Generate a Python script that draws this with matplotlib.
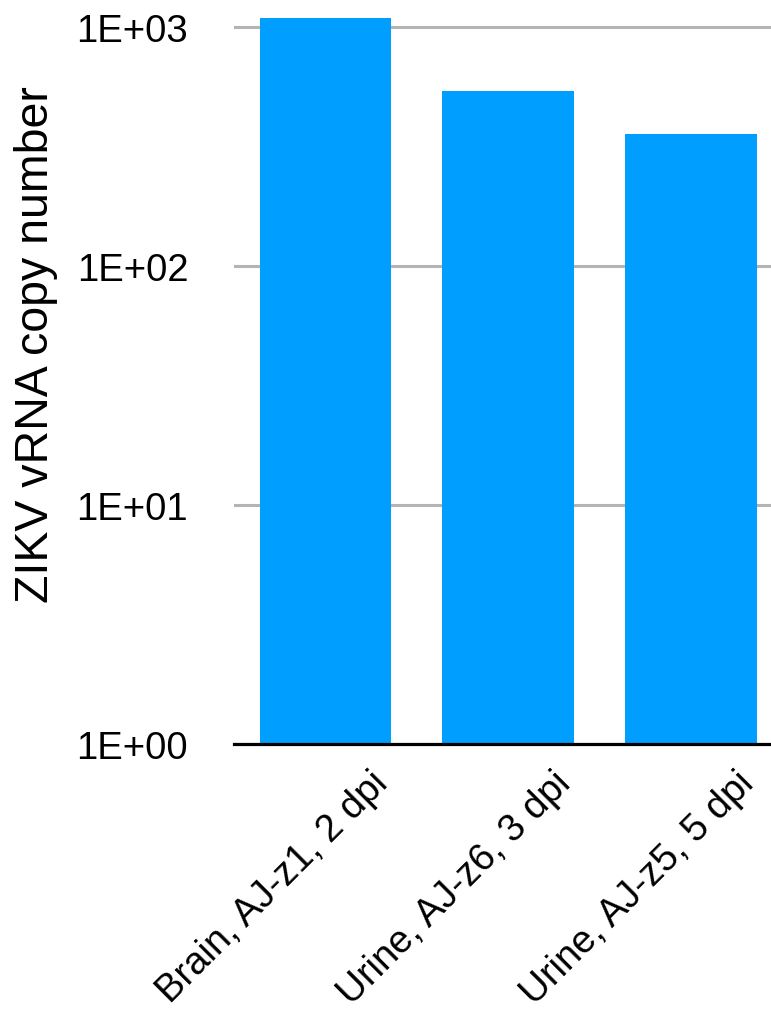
import matplotlib
matplotlib.use("Agg")
import matplotlib.pyplot as plt
import matplotlib.transforms as mtransforms
from matplotlib.ticker import FixedLocator, FixedFormatter

categories = ["Brain, AJ-z1, 2 dpi", "Urine, AJ-z6, 3 dpi", "Urine, AJ-z5, 5 dpi"]
values = [1090, 538, 357]
ytick_values = [1, 10, 100, 1000]
ytick_labels = ["1E+00", "1E+01", "1E+02", "1E+03"]
ylabel = "ZIKV vRNA copy number"

W, H = 771, 1012
plt.rcParams['font.family'] = ['Liberation Sans', 'DejaVu Sans']
fig = plt.figure(figsize=(W / 100, H / 100), dpi=100)

left_px, right_px = 234, 782.5
bottom_px, top_px = 745, 0
ax = fig.add_axes([left_px / W, (H - bottom_px) / H,
                   (right_px - left_px) / W, (bottom_px - top_px) / H])

x = list(range(len(categories)))
ax.bar(x, values, width=0.72, color='#009FFF', zorder=3)
ax.set_yscale('log')
ax.set_xlim(-0.5, len(categories) - 0.5)
ax.set_ylim(1, 10 ** (3 + 28 / 239))

ax.yaxis.set_major_locator(FixedLocator(ytick_values))
ax.yaxis.set_major_formatter(FixedFormatter(ytick_labels))
ax.yaxis.set_minor_locator(FixedLocator([]))
ax.tick_params(axis='y', length=0, pad=33, labelsize=27.5)
ax.tick_params(axis='x', length=0, pad=15, labelsize=27.5)

ax.grid(axis='y', color='#b4b4b4', linewidth=2.2, zorder=0)
ax.set_axisbelow(True)
for s in ['top', 'right', 'left']:
    ax.spines[s].set_visible(False)
ax.spines['bottom'].set_linewidth(2.3)
ax.spines['bottom'].set_color('black')
ax.spines['bottom'].set_zorder(4)

ax.set_xticks(x)
ax.set_xticklabels(categories, rotation=45)
offset = mtransforms.ScaledTranslation(-53 / 100, 0, fig.dpi_scale_trans)
for lab in ax.get_xticklabels():
    lab.set_transform(lab.get_transform() + offset)

fig.text(36 / W, 1 - 345 / H, ylabel, rotation=90, fontsize=33.5,
         ha='center', va='center')

fig.savefig('out.png', dpi=100)
